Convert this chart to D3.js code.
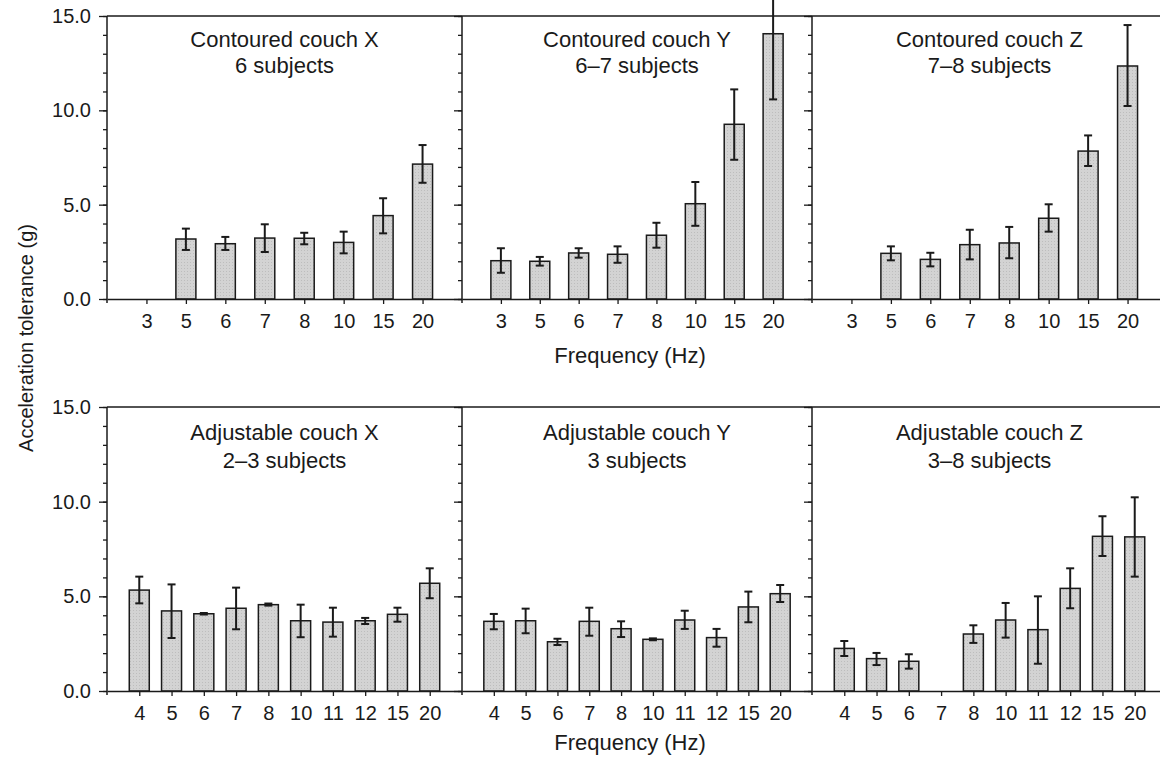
<!DOCTYPE html>
<html>
<head>
<meta charset="utf-8">
<script src="https://cdn.jsdelivr.net/npm/d3@7"></script>
<style>
    body { margin: 0; background: #fff; }
    svg { display: block; font-family: "Liberation Sans", Arial, Helvetica, sans-serif; }
</style>
</head>
<body>
<div id="chart"></div>
<script>
    // frequencies on the x axis, one list per row
    var contouredFreqs = ["3", "5", "6", "7", "8", "10", "15", "20"],
        adjustableFreqs = ["4", "5", "6", "7", "8", "10", "11", "12", "15", "20"];

    var yTickValues = [0, 5, 10, 15];

    // mean tolerance (g) and the ends of the error bars, null = no bar
    var contouredXMean = [null, 3.18, 2.93, 3.23, 3.22, 3.00, 4.42, 7.15],
        contouredXLow  = [null, 2.60, 2.60, 2.49, 2.90, 2.42, 3.48, 6.16],
        contouredXHigh = [null, 3.73, 3.29, 3.96, 3.51, 3.57, 5.34, 8.16];

    var contouredYMean = [2.03, 2.00, 2.44, 2.37, 3.38, 5.05, 9.26, 14.06],
        contouredYLow  = [1.39, 1.77, 2.19, 1.92, 2.72, 3.88, 7.38, 10.58],
        contouredYHigh = [2.69, 2.23, 2.69, 2.79, 4.04, 6.20, 11.11, 16.2];

    var contouredZMean = [null, 2.42, 2.10, 2.88, 2.97, 4.28, 7.84, 12.35],
        contouredZLow  = [null, 2.05, 1.73, 2.10, 2.16, 3.57, 7.05, 10.23],
        contouredZHigh = [null, 2.79, 2.45, 3.67, 3.82, 5.02, 8.67, 14.52];

    var adjustableXMean = [5.33, 4.23, 4.08, 4.37, 4.56, 3.71, 3.64, 3.71, 4.05, 5.69],
        adjustableXLow  = [4.63, 2.80, 4.04, 3.26, 4.51, 2.84, 2.87, 3.54, 3.66, 4.90],
        adjustableXHigh = [6.04, 5.63, 4.12, 5.46, 4.62, 4.56, 4.40, 3.86, 4.40, 6.48];

    var adjustableYMean = [3.68, 3.71, 2.60, 3.68, 3.29, 2.73, 3.75, 2.82, 4.44, 5.14],
        adjustableYLow  = [3.26, 3.05, 2.43, 2.92, 2.85, 2.68, 3.28, 2.34, 3.63, 4.70],
        adjustableYHigh = [4.07, 4.35, 2.76, 4.40, 3.68, 2.78, 4.24, 3.28, 5.25, 5.60];

    var adjustableZMean = [2.25, 1.71, 1.57, null, 3.01, 3.75, 3.24, 5.42, 8.17, 8.14],
        adjustableZLow  = [1.85, 1.37, 1.18, null, 2.54, 2.82, 1.44, 4.37, 7.13, 6.04],
        adjustableZHigh = [2.64, 2.01, 1.94, null, 3.47, 4.65, 5.00, 6.48, 9.23, 10.23];

    var contouredTitles = ["Contoured couch X", "Contoured couch Y", "Contoured couch Z"],
        contouredSubjects = ["6 subjects", "6\u20137 subjects", "7\u20138 subjects"],
        adjustableTitles = ["Adjustable couch X", "Adjustable couch Y", "Adjustable couch Z"],
        adjustableSubjects = ["2\u20133 subjects", "3 subjects", "3\u20138 subjects"];

    // page layout
    var w = 1160,
        h = 758,
        panelLeft = [107, 462, 812],
        panelWidth = [355, 350, 355],
        rowTop = [16, 407],
        rowBottom = [299, 691],
        titleOffset = [[31, 57], [33, 61]],
        xTitleOffset = [64, 59],
        barWidth = 20,
        capWidth = 8,
        ink = "#1a1a1a",
        barFill = "#d3d3d3";

    var rows = [
        {
            freqs: contouredFreqs,
            titles: contouredTitles,
            subjects: contouredSubjects,
            series: [
                [contouredXMean, contouredXLow, contouredXHigh],
                [contouredYMean, contouredYLow, contouredYHigh],
                [contouredZMean, contouredZLow, contouredZHigh]
            ]
        },
        {
            freqs: adjustableFreqs,
            titles: adjustableTitles,
            subjects: adjustableSubjects,
            series: [
                [adjustableXMean, adjustableXLow, adjustableXHigh],
                [adjustableYMean, adjustableYLow, adjustableYHigh],
                [adjustableZMean, adjustableZLow, adjustableZHigh]
            ]
        }
    ];

    var svg = d3.select("#chart")
        .append("svg")
        .attr("width", w)
        .attr("height", h);

    // light stipple for the bars
    var pattern = svg.append("defs").append("pattern")
        .attr("id", "stipple")
        .attr("width", 3)
        .attr("height", 3)
        .attr("patternUnits", "userSpaceOnUse");
    pattern.append("rect").attr("width", 3).attr("height", 3).attr("fill", barFill);
    pattern.append("rect").attr("x", 1).attr("y", 1).attr("width", 1).attr("height", 1).attr("fill", "#bdbdbd");

    function styleAxis(g) {
        g.selectAll("path").attr("stroke", ink).attr("stroke-width", 1.5);
        g.selectAll("line").attr("stroke", ink).attr("stroke-width", 1.3);
        g.selectAll("text").attr("fill", ink).attr("font-family", null);
    }

    rows.forEach(function(row, r) {
        var top = rowTop[r],
            bottom = rowBottom[r];

        var y = d3.scaleLinear().domain([0, 15]).range([bottom, top]);

        row.series.forEach(function(s, p) {
            var left = panelLeft[p],
                right = left + panelWidth[p];

            var x = d3.scalePoint()
                .domain(row.freqs)
                .range([left, right])
                .padding(1);

            var g = svg.append("g");

            var data = row.freqs.map(function(f, i) {
                return { f: f, mean: s[0][i], lo: s[1][i], hi: s[2][i] };
            }).filter(function(d) { return d.mean !== null; });

            // bars
            g.selectAll("rect.bar")
                .data(data)
                .enter().append("rect")
                .attr("class", "bar")
                .attr("x", function(d) { return x(d.f) - barWidth / 2; })
                .attr("y", function(d) { return y(d.mean); })
                .attr("width", barWidth)
                .attr("height", function(d) { return y(0) - y(d.mean); })
                .attr("fill", "url(#stipple)")
                .attr("stroke", ink)
                .attr("stroke-width", 1.5);

            // error bars
            var err = g.selectAll("g.err")
                .data(data)
                .enter().append("g")
                .attr("class", "err")
                .attr("stroke", ink)
                .attr("stroke-width", 2);

            err.append("line")
                .attr("x1", function(d) { return x(d.f); })
                .attr("x2", function(d) { return x(d.f); })
                .attr("y1", function(d) { return y(d.lo); })
                .attr("y2", function(d) { return y(d.hi); });

            err.selectAll("line.cap")
                .data(function(d) { return [[d.f, d.lo], [d.f, d.hi]]; })
                .enter().append("line")
                .attr("class", "cap")
                .attr("x1", function(d) { return x(d[0]) - capWidth / 2; })
                .attr("x2", function(d) { return x(d[0]) + capWidth / 2; })
                .attr("y1", function(d) { return y(d[1]); })
                .attr("y2", function(d) { return y(d[1]); });

            // x axis with a tick under each frequency
            var xAxis = g.append("g")
                .attr("transform", "translate(0," + bottom + ")")
                .call(d3.axisBottom(x).tickSize(5).tickSizeOuter(0).tickPadding(10))
                .attr("font-size", 20);
            styleAxis(xAxis);

            // ticks on the right edge of each panel, pointing in
            // (the last panel's edge is cropped off the page)
            if (right < w) {
                var minor = svg.append("g")
                    .attr("transform", "translate(" + right + ",0)")
                    .call(d3.axisLeft(y).tickValues(d3.range(0, 16)).tickSize(4).tickFormat(""));
                minor.select(".domain").remove();
                styleAxis(minor);
                var major = svg.append("g")
                    .attr("transform", "translate(" + right + ",0)")
                    .call(d3.axisLeft(y).tickValues(yTickValues).tickSize(8).tickFormat(""));
                major.select(".domain").remove();
                styleAxis(major);

                // vertical frame line, running a little below the axis
                svg.append("line")
                    .attr("x1", right).attr("x2", right)
                    .attr("y1", top).attr("y2", bottom + 4)
                    .attr("stroke", ink).attr("stroke-width", 1.5);
            }

            // panel title
            var cx = (left + right) / 2;
            svg.append("text")
                .attr("x", cx)
                .attr("y", top + titleOffset[r][0])
                .attr("text-anchor", "middle")
                .attr("font-size", 22)
                .attr("fill", ink)
                .text(row.titles[p]);
            svg.append("text")
                .attr("x", cx)
                .attr("y", top + titleOffset[r][1])
                .attr("text-anchor", "middle")
                .attr("font-size", 22)
                .attr("fill", ink)
                .text(row.subjects[p]);
        });

        // left axis with labels and minor ticks
        var yMinor = svg.append("g")
            .attr("transform", "translate(" + panelLeft[0] + ",0)")
            .call(d3.axisLeft(y).tickValues(d3.range(0, 16)).tickSize(4).tickFormat(""));
        yMinor.select(".domain").remove();
        styleAxis(yMinor);

        var yAxis = svg.append("g")
            .attr("transform", "translate(" + panelLeft[0] + ",0)")
            .call(d3.axisLeft(y).tickValues(yTickValues).tickSize(8).tickSizeOuter(0)
                .tickPadding(8).tickFormat(d3.format(".1f")))
            .attr("font-size", 20);
        yAxis.select(".domain").remove();
        styleAxis(yAxis);

        svg.append("line")
            .attr("x1", panelLeft[0]).attr("x2", panelLeft[0])
            .attr("y1", top).attr("y2", bottom + 4)
            .attr("stroke", ink).attr("stroke-width", 1.5);

        // top frame line across the row
        svg.append("line")
            .attr("x1", panelLeft[0]).attr("x2", w)
            .attr("y1", top).attr("y2", top)
            .attr("stroke", ink).attr("stroke-width", 1.5);

        // x axis title
        svg.append("text")
            .attr("x", 630)
            .attr("y", bottom + xTitleOffset[r])
            .attr("text-anchor", "middle")
            .attr("font-size", 22)
            .attr("fill", ink)
            .text("Frequency (Hz)");
    });

    // shared y axis title
    svg.append("text")
        .attr("transform", "translate(33,338) rotate(-90)")
        .attr("text-anchor", "middle")
        .attr("font-size", 20)
        .attr("fill", ink)
        .text("Acceleration tolerance (g)");
</script>
</body>
</html>
